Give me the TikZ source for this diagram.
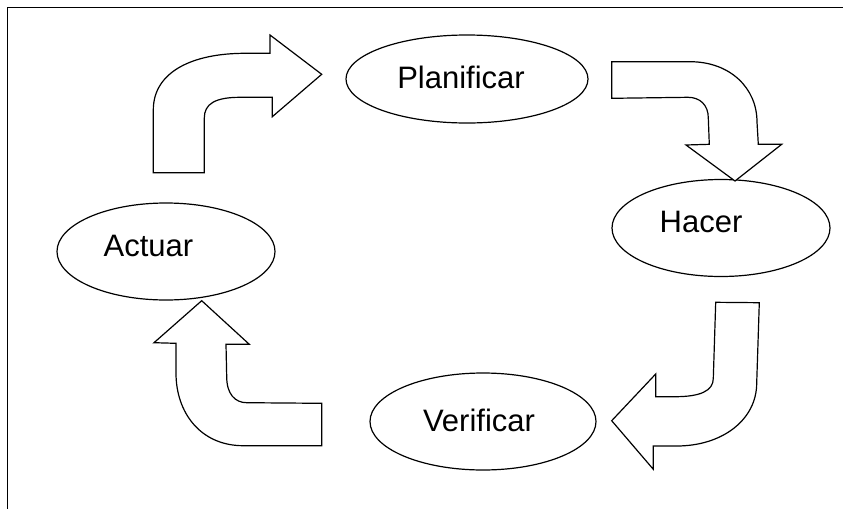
\documentclass[tikz,border=0pt]{standalone}
\usepackage{fontspec}
\setmainfont{Liberation Sans}
\usetikzlibrary{shapes.geometric}

\begin{document}
\begin{tikzpicture}[x=1pt,y=-1pt,
  phase/.style={draw,ellipse,line width=1.2pt,inner sep=0pt},
  word/.style={anchor=base,inner sep=0pt,font=\fontsize{31}{36}\selectfont},
  bigarrow/.style={draw,line width=1.2pt,fill=white,line join=miter}]
\useasboundingbox (0,0) rectangle (843,509);
% frame
\draw[line width=1pt] (843,7.8) -- (7.5,7.8) -- (7.5,509);
% phases
\node[phase,minimum width=242,minimum height=88] (plan) at (467,79) {};
\node[word] (plantxt) at (461,88.3) {Planificar};
\node[phase,minimum width=218,minimum height=97] (hacer) at (721,228) {};
\node[word] (hacertxt) at (701,232.3) {Hacer};
\node[phase,minimum width=226,minimum height=97] (verif) at (483,421.5) {};
\node[word] (veriftxt) at (479,431.7) {Verificar};
\node[phase,minimum width=218,minimum height=97] (actuar) at (166,251.5) {};
\node[word] (actuartxt) at (148.5,256.7) {Actuar};
% actuar -> planificar
\draw[bigarrow] (153.3,172.7) -- (153.3,110) .. controls (153.3,72) and (192,53.3) .. (245,53.3)
  -- (270,53.3) -- (270,35) -- (321.7,74.3) -- (272.3,116.7) -- (272.3,97.3) -- (240,97.3)
  .. controls (215,97.3) and (204.3,104) .. (204.3,118) -- (204.3,172.7) -- cycle;
% planificar -> hacer
\draw[bigarrow] (611.7,61.7) -- (690,61.7) .. controls (730,61.7) and (757,88) .. (757,122)
  -- (758.3,144.3) -- (781.7,144.3) -- (735,181) -- (686,145) -- (709.3,144.3)
  -- (708.3,118) .. controls (708.3,105) and (700,97.3) .. (688,97.3) -- (611.7,98.3) -- cycle;
% hacer -> verificar
\draw[bigarrow] (715.7,302.3) -- (759.3,302.7) -- (756.7,383) .. controls (756.7,420) and (722,446) .. (676.7,446)
  -- (653.3,446) -- (653.3,469.3) -- (611.7,420.7) -- (655.7,374) -- (655.7,396.7) -- (675,396.7)
  .. controls (700,396.7) and (713.3,391) .. (713.3,378.3) -- cycle;
% verificar -> actuar
\draw[bigarrow] (201.7,300.7) -- (249.3,344.3) -- (226,344.3) -- (226.7,376.7)
  .. controls (226.7,394) and (235,402.7) .. (246.7,402.7) -- (321.7,403.3) -- (321.7,445.7)
  -- (243.3,445.7) .. controls (200,445.7) and (176,412) .. (176,373.3) -- (176,343.3)
  -- (154,342.7) -- cycle;
\end{tikzpicture}
\end{document}
